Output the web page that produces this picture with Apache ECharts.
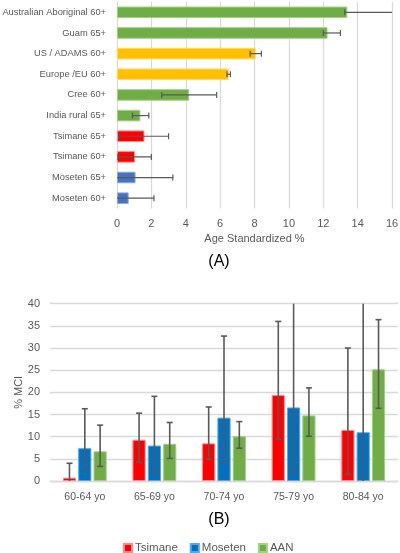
<!DOCTYPE html>
<html><head><meta charset="utf-8">
<script src="https://cdn.jsdelivr.net/npm/echarts@6/dist/echarts.min.js"></script>
<style>html,body{margin:0;padding:0;background:#fff}#c{width:400px;height:553px}</style>
</head><body><div id="c"></div>
<script>
// ---- Panel A data ----
var catsA = ['Australian Aboriginal 60+', 'Guam 65+', 'US / ADAMS 60+', 'Europe /EU 60+', 'Cree 60+', 'India rural 65+', 'Tsimane 65+', 'Tsimane 60+', 'Moseten 65+', 'Moseten 60+'];
var valsA = [13.4, 12.25, 8.07, 6.5, 4.2, 1.36, 1.6, 1.05, 1.08, 0.68];
var lowA  = [13.25, 12.0, 7.75, 6.4, 2.6, 0.9, 0.1, 0.05, 0.0, 0.0];
var highA = [16.6, 13.0, 8.4, 6.6, 5.8, 1.85, 3.0, 2.0, 3.25, 2.15];
var groupA = ['other', 'other', 'ref', 'ref', 'other', 'other', 'tsimane', 'tsimane', 'moseten', 'moseten'];
var ticksA = [0, 2, 4, 6, 8, 10, 12, 14, 16];

// ---- Panel B data ----
var catsB = ['60-64 yo', '65-69 yo', '70-74 yo', '75-79 yo', '80-84 yo'];
var seriesNamesB = ['Tsimane', 'Moseten', 'AAN'];
var tsimane = [0.75, 9.3, 8.5, 19.4, 11.5];
var tsimaneLow = [0, 4.2, 4.9, 9.4, 1.5];
var tsimaneHigh = [4.0, 15.3, 16.7, 36.0, 30.0];
var moseten = [7.4, 8.0, 14.3, 16.6, 11.0];
var mosetenLow = [2.3, 1.95, 4.0, 1.95, 0];
var mosetenHigh = [16.3, 19.1, 32.7, 44.0, 48.0];
var aan = [6.7, 8.4, 10.1, 14.8, 25.2];
var aanLow = [3.3, 5.1, 7.4, 10.1, 16.4];
var aanHigh = [12.6, 13.2, 13.4, 21.0, 36.4];
var ticksB = [0, 5, 10, 15, 20, 25, 30, 35, 40];

// ---- styles ----
var FONT = '"Liberation Sans", Arial, sans-serif';
var TXT = '#595959';
var GRID = '#d9d9d9';
var colorA = {other: '#70AD47', ref: '#FFC000', tsimane: '#FF0000', moseten: '#4472C4'};
var colorB = ['#FF0000', '#0070C0', '#70AD47'];
var borderB = ['#ff8a8a', '#5aa6e0', '#a4cf86'];
var borderA = {other: '#a4cf86', ref: '#ffd966', tsimane: '#ff8a8a', moseten: '#8fa9dc'};

var maxA = ticksA[ticksA.length - 1], maxB = ticksB[ticksB.length - 1];
var catGapB = 0.37, barGapB = 0.16;

var chart = echarts.init(document.getElementById('c'), null, {renderer: 'canvas'});

function errA(params, api) {
  var lo = Math.max(api.value(0), 0), hi = Math.min(api.value(1), maxA);
  var p1 = api.coord([lo, api.value(2)]);
  var p2 = api.coord([hi, api.value(2)]);
  var y = p1[1], h = 3;
  var st = {stroke: '#595959', lineWidth: 1.2};
  var children = [{type: 'line', shape: {x1: p1[0], y1: y, x2: p2[0], y2: y}, style: st}];
  if (api.value(0) >= 0.03) children.push({type: 'line', shape: {x1: p1[0], y1: y - h, x2: p1[0], y2: y + h}, style: st});
  if (api.value(1) <= maxA) children.push({type: 'line', shape: {x1: p2[0], y1: y - h, x2: p2[0], y2: y + h}, style: st});
  return {type: 'group', children: children};
}

function makeErrB(idx) {
  return function (params, api) {
    var band = api.size([1, 0])[0];
    var groupW = band * (1 - catGapB);
    var bw = groupW / (3 + 2 * barGapB);
    var off = -groupW / 2 + bw / 2 + idx * bw * (1 + barGapB);
    var lo = Math.max(api.value(1), 0), hi = Math.min(api.value(2), maxB);
    var p1 = api.coord([api.value(0), lo]);
    var p2 = api.coord([api.value(0), hi]);
    var x = p1[0] + off, w = 3;
    var st = {stroke: '#595959', lineWidth: 1.6};
    var children = [{type: 'line', shape: {x1: x, y1: p1[1], x2: x, y2: p2[1]}, style: st}];
    if (api.value(1) > 0.05) children.push({type: 'line', shape: {x1: x - w, y1: p1[1], x2: x + w, y2: p1[1]}, style: st});
    if (api.value(2) <= maxB) children.push({type: 'line', shape: {x1: x - w, y1: p2[1], x2: x + w, y2: p2[1]}, style: st});
    return {type: 'group', children: children};
  };
}

var valsB = [tsimane, moseten, aan];
var lowsB = [tsimaneLow, mosetenLow, aanLow];
var highsB = [tsimaneHigh, mosetenHigh, aanHigh];

var series = [];
series.push({
  type: 'bar', xAxisIndex: 0, yAxisIndex: 0, barCategoryGap: '44%',
  data: valsA.map(function (v, i) {
    return {value: v, itemStyle: {color: colorA[groupA[i]], borderColor: borderA[groupA[i]], borderWidth: 1}};
  }),
  silent: true, z: 2
});
series.push({
  type: 'custom', xAxisIndex: 0, yAxisIndex: 0, renderItem: errA,
  encode: {x: [0, 1], y: 2},
  data: lowA.map(function (l, i) { return [l, highA[i], i]; }), z: 5, silent: true
});
for (var s = 0; s < 3; s++) {
  series.push({
    type: 'bar', name: seriesNamesB[s], xAxisIndex: 1, yAxisIndex: 1,
    barCategoryGap: (catGapB * 100) + '%', barGap: (barGapB * 100) + '%',
    itemStyle: {color: colorB[s], borderColor: borderB[s], borderWidth: 1},
    data: valsB[s], silent: true, z: 2
  });
}
for (var s2 = 0; s2 < 3; s2++) {
  series.push({
    type: 'custom', xAxisIndex: 1, yAxisIndex: 1, renderItem: makeErrB(s2),
    encode: {x: 0, y: [1, 2]},
    data: catsB.map(function (c, i) { return [i, lowsB[s2][i], highsB[s2][i]]; }), z: 5, silent: true
  });
}

chart.setOption({
  animation: false,
  textStyle: {fontFamily: FONT},
  grid: [
    {left: 117, right: 8, top: 2, height: 206.5, containLabel: false, outerBoundsMode: 'none'},
    {left: 50, right: 2, top: 303.7, height: 177.3, containLabel: false, outerBoundsMode: 'none'}
  ],
  xAxis: [
    {gridIndex: 0, type: 'value', min: 0, max: maxA, interval: 2,
      axisLine: {show: false}, axisTick: {show: false},
      splitLine: {lineStyle: {color: GRID, width: 1.3}},
      axisLabel: {color: TXT, fontSize: 11, fontFamily: FONT, margin: 10},
      name: 'Age Standardized %', nameLocation: 'middle', nameGap: 25, nameMoveOverlap: false,
      nameTextStyle: {color: TXT, fontSize: 11, fontFamily: FONT}},
    {gridIndex: 1, type: 'category', data: catsB,
      axisLine: {lineStyle: {color: GRID, width: 1.3}}, axisTick: {show: false},
      axisLabel: {color: TXT, fontSize: 10.5, fontFamily: FONT, margin: 11}}
  ],
  yAxis: [
    {gridIndex: 0, type: 'category', data: catsA, inverse: true,
      axisLine: {show: false}, axisTick: {show: false},
      axisLabel: {color: TXT, fontSize: 9.3, fontFamily: FONT, margin: 11}},
    {gridIndex: 1, type: 'value', min: 0, max: maxB, interval: 5,
      axisLine: {show: false}, axisTick: {show: false},
      splitLine: {lineStyle: {color: GRID, width: 1.3}},
      axisLabel: {color: TXT, fontSize: 11, fontFamily: FONT, margin: 10},
      name: '% MCI', nameLocation: 'middle', nameGap: 26, nameMoveOverlap: false,
      nameTextStyle: {color: TXT, fontSize: 11, fontFamily: FONT}}
  ],
  legend: {
    data: seriesNamesB, left: 118, top: 537, itemWidth: 8, itemHeight: 8, itemGap: 12,
    icon: 'rect', textStyle: {color: TXT, fontSize: 11.5, fontFamily: FONT, padding: [0, 0, 0, -2]}
  },
  graphic: [
    {type: 'text', x: 219, y: 262, style: {text: '(A)', fill: '#000', font: '16px ' + FONT, textAlign: 'center', textVerticalAlign: 'middle'}},
    {type: 'text', x: 219, y: 520, style: {text: '(B)', fill: '#000', font: '16px ' + FONT, textAlign: 'center', textVerticalAlign: 'middle'}}
  ],
  series: series
});
</script>
</body></html>
